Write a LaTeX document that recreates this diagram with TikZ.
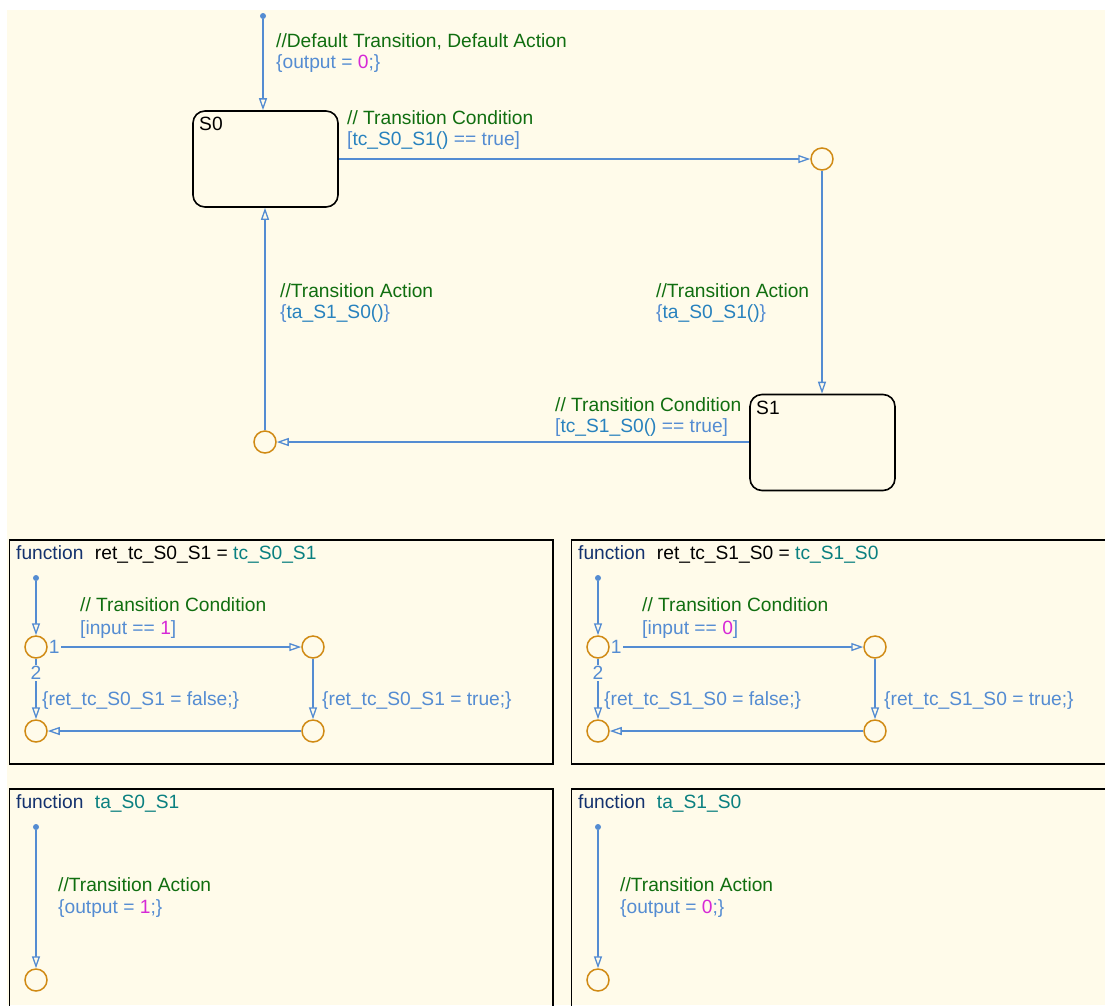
\documentclass[tikz,border=0pt]{standalone}
\usepackage{fontspec}
\setmainfont{Liberation Sans}
\usetikzlibrary{arrows.meta}

\definecolor{bgcream}{RGB}{255,251,234}
\definecolor{wire}{RGB}{84,140,210}
\definecolor{cmt}{RGB}{16,110,16}
\definecolor{act}{RGB}{84,140,210}
\definecolor{call}{RGB}{40,130,190}
\definecolor{num}{RGB}{214,40,214}
\definecolor{junc}{RGB}{208,138,20}
\definecolor{kw}{RGB}{20,50,110}
\definecolor{fname}{RGB}{10,128,128}

\tikzset{
  stateblk/.style={draw=black, line width=1.6pt, rounded corners=12pt,
    minimum width=145pt, minimum height=96pt, inner sep=0pt},
  junction/.style={circle, draw=junc, line width=1.5pt, minimum size=22pt,
    inner sep=0pt, fill=bgcream},
  startdot/.style={circle, fill=wire, inner sep=0pt, minimum size=6pt},
  trans/.style={draw=wire, line width=1.3pt,
    -{Triangle[open, length=12pt, width=8pt, fill=bgcream]}},
  fnbox/.style={draw=black, line width=1.6pt},
  lbl/.style={anchor=base west, inner sep=0pt},
  cmtlbl/.style={lbl, text=cmt},
  actlbl/.style={lbl, text=act},
  order/.style={inner sep=1pt, fill=bgcream, text=act},
}

\newcommand{\fnhead}[2]{\textcolor{kw}{function}\hspace{0.6em}#1\textcolor{fname}{#2}}

\begin{document}
\begin{tikzpicture}[x=1pt, y=-1pt, font=\fontsize{19.2}{23}\selectfont]
  % canvas
  \fill[white] (0,0) rectangle (1105,1005);
  \fill[bgcream] (7,10) rectangle (1105,1005);
  \useasboundingbox (0,0) rectangle (1105,1005);
  \clip (0,0) rectangle (1105,1005);

  % ---------------- main chart ----------------
  \node[stateblk] (S0) at (265.5,159) {};
  \node[lbl] at (199,130) {S0};
  \node[stateblk] (S1) at (822.5,442.5) {};
  \node[lbl] at (756,414) {S1};

  \node[startdot] (d0) at (263,16) {};
  \node[junction] (J1) at (822,159) {};
  \node[junction] (J2) at (265,442) {};

  \draw[trans] (d0) -- (d0 |- S0.north);
  \draw[trans] (S0.east |- J1) -- (J1.west);
  \draw[trans] (J1.south) -- (J1 |- S1.north);
  \draw[trans] (S1.west |- J2) -- (J2.east);
  \draw[trans] (J2.north) -- (J2 |- S0.south);

  \node[cmtlbl] at (276,47) {//Default Transition, Default Action};
  \node[actlbl] at (276,68) {\{output = \textcolor{num}{0};\}};

  \node[cmtlbl] at (347,124) {// Transition Condition};
  \node[actlbl] at (347,145) {[\textcolor{call}{tc\_S0\_S1()} == true]};

  \node[cmtlbl] at (656,297) {//Transition Action};
  \node[actlbl] at (656,318) {\{\textcolor{call}{ta\_S0\_S1()}\}};

  \node[cmtlbl] at (280,297) {//Transition Action};
  \node[actlbl] at (280,318) {\{\textcolor{call}{ta\_S1\_S0()}\}};

  \node[cmtlbl] at (555,411) {// Transition Condition};
  \node[actlbl] at (555,432) {[\textcolor{call}{tc\_S1\_S0()} == true]};

  % ---------------- graphical functions: conditions ----------------
  \foreach \dx/\ret/\fn/\val in {0/ret\_tc\_S0\_S1/tc\_S0\_S1/1, 562/ret\_tc\_S1\_S0/tc\_S1\_S0/0} {
    \begin{scope}[xshift=\dx]
      \draw[fnbox] (9.5,540) rectangle (553,764);
      \node[lbl] at (16,559) {\fnhead{\ret{} = }{\fn}};

      \node[startdot] (c0) at (36,578) {};
      \node[junction] (c1) at (36,647) {};
      \node[junction] (c2) at (313,647) {};
      \node[junction] (c3) at (313,731) {};
      \node[junction] (c4) at (36,731) {};

      \draw[trans] (c0) -- (c1);
      \draw[trans] (c1) -- (c2);
      \draw[trans] (c2) -- (c3);
      \draw[trans] (c3) -- (c4);
      \draw[trans] (c1) -- (c4);
      \node[order, anchor=west] at (c1.east) {1};
      \node[order] at (36,673) {2};

      \node[cmtlbl] at (80,611) {// Transition Condition};
      \node[actlbl] at (80,634) {[input == \textcolor{num}{\val}]};
      \node[actlbl] at (42,705) {\{\ret{} = false;\}};
      \node[actlbl] at (322,705) {\{\ret{} = true;\}};
    \end{scope}
  }

  % ---------------- graphical functions: actions ----------------
  \foreach \dx/\fn/\val in {0/ta\_S0\_S1/1, 562/ta\_S1\_S0/0} {
    \begin{scope}[xshift=\dx]
      \draw[fnbox] (9.5,789) rectangle (553,1020);
      \node[lbl] at (16,808) {\fnhead{}{\fn}};

      \node[startdot] (e0) at (36,827) {};
      \node[junction] (e1) at (36,980) {};
      \draw[trans] (e0) -- (e1);

      \node[cmtlbl] at (58,891) {//Transition Action};
      \node[actlbl] at (58,913) {\{output = \textcolor{num}{\val};\}};
    \end{scope}
  }
\end{tikzpicture}
\end{document}
